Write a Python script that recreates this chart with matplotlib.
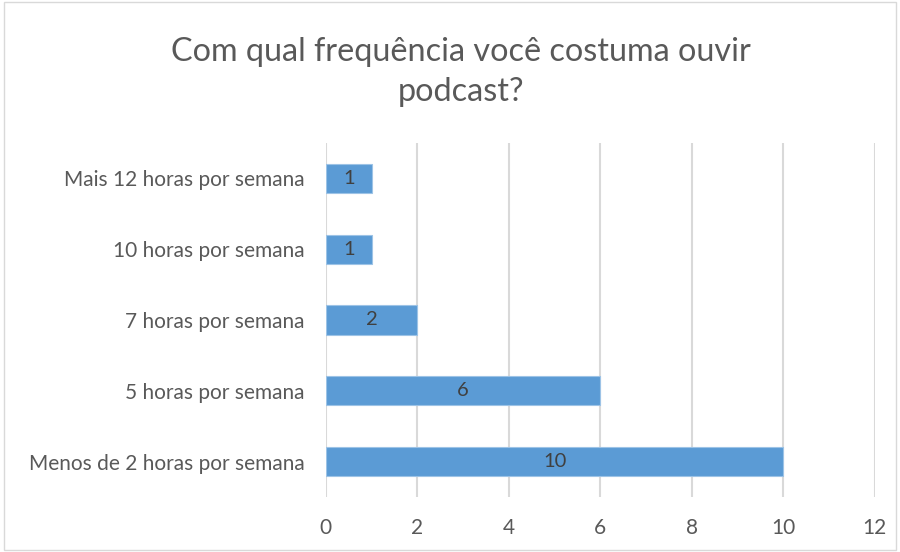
import matplotlib.pyplot as plt
from matplotlib.patches import Rectangle

categories = ["Menos de 2 horas por semana", "5 horas por semana",
              "7 horas por semana", "10 horas por semana",
              "Mais 12 horas por semana"]
values = [10, 6, 2, 1, 1]
xticks = [0, 2, 4, 6, 8, 10, 12]

plt.rcParams["font.family"] = ["Lato", "DejaVu Sans"]

fig = plt.figure(figsize=(9, 5.52), dpi=100)
ax = fig.add_axes([0.362, 0.0996, 0.610, 0.6414])

y = range(len(categories))
bars = ax.barh(y, values, height=0.41, color="#5B9BD5",
               edgecolor="#9DC3E6", linewidth=0.8, zorder=3)
for b, v in zip(bars, values):
    ax.text(v / 2, b.get_y() + b.get_height() / 2, str(v),
            ha="center", va="center", fontsize=14.5, color="#404040", zorder=4)

ax.set_xlim(0, 12)
ax.set_ylim(-0.5, len(categories) - 0.5)
ax.set_xticks(xticks)
ax.set_yticks(list(y))
ax.set_yticklabels(categories)
ax.tick_params(axis="both", length=0, labelsize=15, colors="#595959")
ax.tick_params(axis="y", pad=15)
ax.tick_params(axis="x", pad=15)
ax.grid(axis="x", color="#D9D9D9", linewidth=1.5, zorder=0)
for s in ax.spines.values():
    s.set_visible(False)

fig.text(0.512, 0.87, "Com qual frequência você costuma ouvir\npodcast?",
         ha="center", va="center", fontsize=23.3, color="#595959",
         linespacing=1.4)

fig.patches.append(Rectangle((0.004, 0.004), 0.992, 0.992,
                             transform=fig.transFigure, fill=False,
                             edgecolor="#D9D9D9", linewidth=1))

plt.savefig("out.png", dpi=100)
plt.close()
